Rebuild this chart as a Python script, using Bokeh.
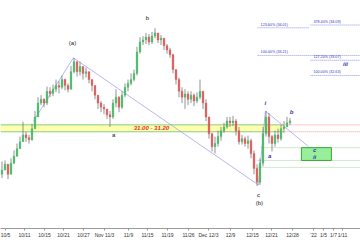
from bokeh.plotting import figure
from bokeh.models import Range1d, FixedTicker, ColumnDataSource
from bokeh.core.properties import value
from bokeh.embed import file_html
from bokeh.resources import INLINE

# ---- data (bar index = one half trading day) ----
close = [29.89, 30.06, 29.77, 30.09, 30.29, 30.51, 30.71, 30.91, 30.83, 30.77,
         31.09, 31.43, 31.83, 31.94, 31.83, 32.17, 32.11, 32.23, 32.34, 32.29,
         32.51, 32.34, 32.23, 32.74, 33.03, 32.74, 32.89, 32.69, 32.74, 32.51,
         32.34, 32.06, 31.83, 31.71, 31.66, 31.49, 31.43, 31.83, 32.00, 31.71,
         32.06, 32.29, 32.40, 32.51, 32.69, 33.31, 33.60, 33.66, 33.74, 33.60,
         33.77, 33.86, 33.66, 33.71, 33.49, 33.37, 33.23, 32.80, 32.51, 32.17,
         32.00, 32.09, 31.94, 32.06, 31.89, 32.00, 32.17, 31.83, 31.43, 30.94,
         30.57, 30.66, 30.86, 31.03, 31.14, 31.31, 31.26, 31.31, 31.03, 30.71,
         30.80, 30.66, 30.74, 30.37, 29.94, 29.54, 30.09, 30.94, 31.43, 30.86,
         30.66, 30.91, 30.80, 31.09, 31.14, 31.26, 31.31]
high = [30.14, 30.17, 30.00, 30.23, 30.46, 30.66, 30.86, 31.29, 31.00, 30.91,
        31.23, 31.60, 32.00, 32.06, 31.97, 32.31, 32.29, 32.37, 32.51, 32.46,
        32.63, 32.54, 32.40, 32.91, 33.14, 32.97, 33.03, 32.80, 32.86, 32.74,
        32.51, 32.29, 32.06, 31.89, 31.80, 31.66, 31.60, 31.94, 32.23, 32.03,
        32.17, 32.40, 32.51, 32.69, 32.80, 33.46, 33.74, 33.77, 33.86, 33.83,
        33.89, 34.00, 33.86, 33.80, 33.66, 33.54, 33.43, 33.26, 32.80, 32.57,
        32.29, 32.23, 32.17, 32.17, 32.11, 32.14, 32.51, 32.06, 31.94, 31.43,
        30.97, 30.86, 31.03, 31.14, 31.26, 31.43, 31.43, 31.46, 31.37, 31.14,
        30.91, 30.86, 30.89, 30.80, 30.46, 30.06, 30.23, 31.14, 31.60, 31.54,
        30.91, 31.03, 31.09, 31.20, 31.31, 31.43, 31.40]
low = [29.66, 29.89, 29.63, 29.89, 30.06, 30.31, 30.57, 30.77, 30.71, 30.66,
       30.74, 31.14, 31.49, 31.77, 31.71, 31.77, 32.00, 32.03, 32.14, 32.11,
       32.23, 32.20, 32.14, 32.23, 32.69, 32.60, 32.63, 32.51, 32.57, 32.40,
       32.17, 31.94, 31.66, 31.57, 31.51, 31.37, 31.14, 31.37, 31.71, 31.57,
       31.66, 32.00, 32.17, 32.34, 32.46, 32.63, 33.26, 33.51, 33.54, 33.51,
       33.54, 33.71, 33.57, 33.51, 33.37, 33.26, 33.14, 32.69, 32.37, 32.00,
       31.83, 31.66, 31.77, 31.83, 31.74, 31.83, 31.94, 31.66, 31.31, 30.80,
       30.43, 30.37, 30.57, 30.74, 30.97, 31.09, 31.14, 31.17, 30.89, 30.63,
       30.63, 30.57, 30.51, 30.23, 29.77, 29.43, 29.46, 30.00, 30.86, 30.66,
       30.43, 30.57, 30.69, 30.74, 30.97, 31.14, 31.20]
first_open = 29.77

tick_pos = [1.67, 8.0, 14.67, 21.0, 27.67, 34.67, 42.67, 49.0, 55.67, 62.67,
            69.33, 76.67, 84.0, 90.33, 97.33, 104.33, 107.67, 111.0, 114.0]
tick_lab = ["10/5", "10/11", "10/15", "10/21", "10/27", "Nov 11/3", "11/9", "11/15",
            "11/19", "11/26", "Dec 12/3", "12/9", "12/15", "12/21", "12/28", "'22",
            "1/5", "1/7", "1/11"]

band_lo, band_hi, band_end = 31.00, 31.20, 94.3
band_text = "31.00 - 31.20"

# wave labels (black = larger degree, blue italic = minor degree)
blk_text = ["(a)", "b", "a", "c", "(b)"]
blk_x = [24.0, 49.0, 37.7, 86.0, 86.3]
blk_y = [33.57, 34.29, 30.91, 29.17, 28.94]
blu_text = ["i", "a", "b", "c", "ii", "iii"]
blu_x = [88.3, 89.7, 97.0, 104.7, 104.7, 115.0]
blu_y = [31.83, 30.29, 31.57, 30.46, 30.26, 32.97]

# trend lines (x0, y0, x1, y1)
tl_x0 = [11.0, 24.3, 86.0, 88.3]
tl_y0 = [31.31, 33.14, 29.46, 31.60]
tl_x1 = [24.3, 86.0, 88.3, 102.7]
tl_y1 = [33.14, 29.46, 31.60, 30.57]

# fibonacci levels
fib_x0 = [85.7, 103.3, 85.7, 103.3, 103.3]
fib_x1 = [102.7, 120.0, 120.0, 120.0, 120.0]
fib_y = [34.01, 34.09, 33.21, 33.07, 32.63]
fib_text = ["123.60% (34.01)", "378.40% (34.09)", "100.00% (33.21)",
            "127.20% (33.07)", "100.00% (32.63)"]

# target zone levels
grn_x0 = [86.7, 85.7, 86.0]
grn_y = [30.54, 30.17, 29.97]
box_x0, box_x1, box_y0, box_y1 = 100.3, 110.3, 30.17, 30.54

# ---- figure ----
p = figure(width=360, height=240, output_backend="svg", toolbar_location=None,
           x_range=Range1d(0, 120), y_range=Range1d(28.2, 34.8),
           min_border=0, min_border_left=0, min_border_right=0,
           min_border_top=0, min_border_bottom=0)
p.outline_line_color = None
p.background_fill_color = "white"
p.border_fill_color = "white"
p.grid.visible = False
p.yaxis.visible = False

xa = p.xaxis[0]
xa.ticker = FixedTicker(ticks=tick_pos)
xa.major_label_overrides = {t: l for t, l in zip(tick_pos, tick_lab)}
xa.major_label_text_font_size = "5px"
xa.major_label_text_font = "Liberation Sans"
xa.major_label_text_color = "#333333"
xa.major_label_standoff = 1
xa.major_tick_in = 0
xa.major_tick_out = 2
xa.minor_tick_line_color = None
xa.axis_line_color = "#999999"
xa.major_tick_line_color = "#999999"

# band
p.quad(left=[0], right=[band_end], bottom=[band_lo], top=[band_hi],
       fill_color="#ffff99", fill_alpha=0.8, line_color=None)
p.segment(x0=[0, 0], y0=[band_lo, band_hi], x1=[band_end, band_end], y1=[band_lo, band_hi],
          line_color="#88cc88", line_width=1)
p.segment(x0=[band_end, band_end], y0=[band_lo, band_hi], x1=[120, 120], y1=[band_lo, band_hi],
          line_color="#ff6666", line_width=0.7, line_dash="1 1")

# green zone
p.segment(x0=grn_x0, y0=grn_y, x1=[120] * len(grn_y), y1=grn_y,
          line_color="#77bb77", line_width=0.7, line_dash="1 1")
p.quad(left=[box_x0], right=[box_x1], bottom=[box_y0], top=[box_y1],
       fill_color="#99ee99", line_color="#33aa33", line_width=1)

# fib lines
p.segment(x0=fib_x0, y0=fib_y, x1=fib_x1, y1=fib_y,
          line_color="#6666dd", line_width=0.7, line_dash="1 1")
p.text(x=[x + 1.0 for x in fib_x0], y=fib_y, text=fib_text, text_font=value("Liberation Sans"),
       text_font_size="3.7px", text_color="#3333cc", text_baseline="bottom", text_align="left",
       y_offset=-1)

# trend lines
p.segment(x0=tl_x0, y0=tl_y0, x1=tl_x1, y1=tl_y1, line_color="#9999ee",
          line_width=0.8, line_alpha=0.9)

# candles
opens = [first_open] + close[:-1]
xs = [i + 0.5 for i in range(len(close))]
up = [c >= o for o, c in zip(opens, close)]
hi = [max(h, o, c) for h, o, c in zip(high, opens, close)]
lo = [min(l, o, c) for l, o, c in zip(low, opens, close)]
src = ColumnDataSource(dict(x=xs, o=opens, c=close, h=hi, l=lo,
                            top=[max(o, c) for o, c in zip(opens, close)],
                            bot=[min(o, c) for o, c in zip(opens, close)],
                            col=["#44bb66" if u else "#e05555" for u in up]))
p.segment(x0="x", y0="l", x1="x", y1="h", source=src, line_color="#666666", line_width=0.7)
p.vbar(x="x", top="top", bottom="bot", width=0.55, source=src,
       fill_color="col", line_color="col", line_width=0.4)

# texts
p.text(x=blk_x, y=blk_y, text=blk_text, text_color="#222222",
       text_font=value("Liberation Sans"), text_font_size="6px",
       text_align="center", text_baseline="middle")
p.text(x=blu_x, y=blu_y, text=blu_text, text_color="#3333cc",
       text_font=value("Liberation Sans"), text_font_size="6px", text_font_style="bold italic",
       text_align="center", text_baseline="middle")
p.text(x=[50.3], y=[(band_lo + band_hi) / 2], text=[band_text], text_color="#ee2222",
       text_font=value("Liberation Sans"), text_font_size="6px", text_font_style="bold italic",
       text_align="center", text_baseline="middle")

open("out.html", "w").write(file_html(p, INLINE))
